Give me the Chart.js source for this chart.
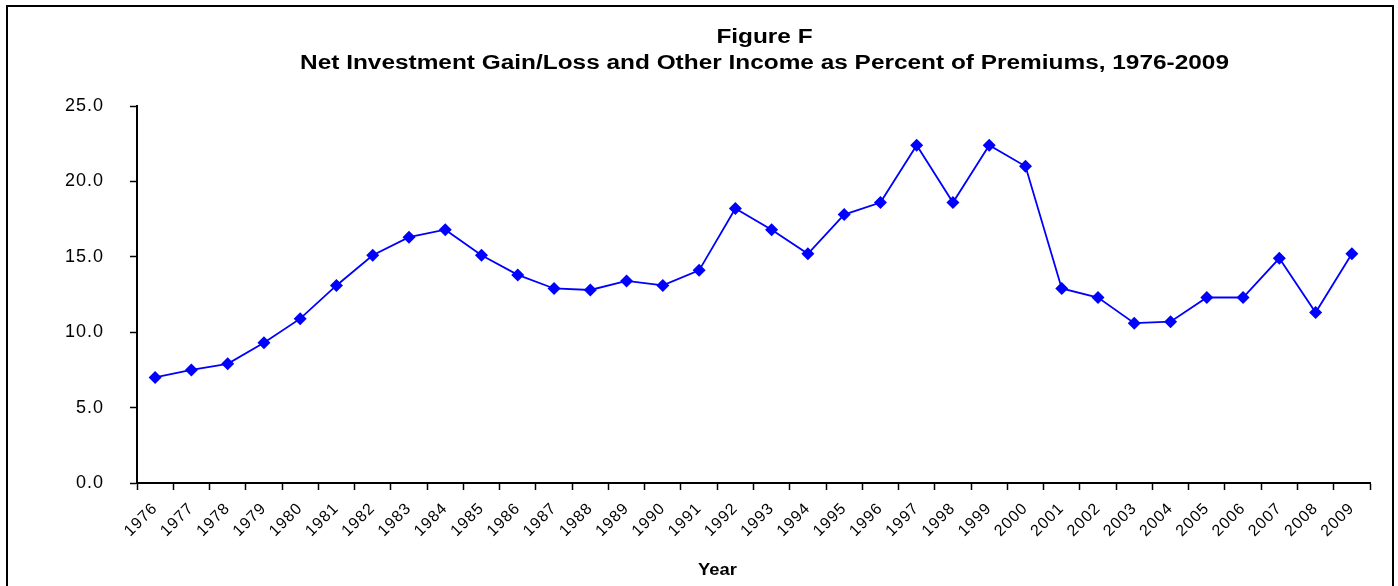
<!DOCTYPE html>
<html>
<head>
<meta charset="utf-8">
<script src="https://cdn.jsdelivr.net/npm/chart.js@4/dist/chart.umd.min.js"></script>
<style>
  html, body { margin: 0; padding: 0; background: #fff; overflow: hidden; }
  .frame {
    position: absolute; left: 6px; top: 5px;
    width: 1384px; height: 590px;
    border: 2px solid #000;
  }
  canvas { display: block; }
</style>
</head>
<body>
<div class="frame"><canvas id="chart" width="1384" height="590"></canvas></div>
<script>
// ── Data ─────────────────────────────────────────────────────────────────────

const YEARS = [
  '1976', '1977', '1978', '1979', '1980', '1981', '1982', '1983', '1984', '1985',
  '1986', '1987', '1988', '1989', '1990', '1991', '1992', '1993', '1994', '1995',
  '1996', '1997', '1998', '1999', '2000', '2001', '2002', '2003', '2004', '2005',
  '2006', '2007', '2008', '2009',
];

// Net investment gain/loss and other income, % of premiums
const PCT_OF_PREMIUMS = [
  7.0, 7.5, 7.9, 9.3, 10.9, 13.1, 15.1, 16.3, 16.8, 15.1,
  13.8, 12.9, 12.8, 13.4, 13.1, 14.1, 18.2, 16.8, 15.2, 17.8,
  18.6, 22.4, 18.6, 22.4, 21.0, 12.9, 12.3, 10.6, 10.7, 12.3,
  12.3, 14.9, 11.3, 15.2,
];

const Y_MIN = 0;
const Y_MAX = 25;
const Y_STEP = 5;

const TITLE_LINES = [
  'Figure F',
  'Net Investment Gain/Loss and Other Income as Percent of Premiums, 1976-2009',
];
const X_TITLE = 'Year';

// ── Styling ──────────────────────────────────────────────────────────────────

const FONT = "'Liberation Sans', Arial, sans-serif";
const BLUE = '#0000ff';
const TICK_SPACING = '1px';

// Wide, slightly stretched text, centred at (x, y)
function wideText(ctx, text, x, y, sx) {
  ctx.save();
  ctx.translate(x, y);
  ctx.scale(sx, 1);
  ctx.fillText(text, 0, 0);
  ctx.restore();
}

// Title block and axis title sit a little off the plot centre, so they are
// drawn here rather than through the built-in title options.
const figureText = {
  id: 'figureText',
  beforeUpdate(chart) { chart.ctx.letterSpacing = TICK_SPACING; },
  beforeDraw(chart)   { chart.ctx.letterSpacing = TICK_SPACING; },
  afterDraw(chart) {
    const { ctx, chartArea } = chart;
    const mid = (chartArea.left + chartArea.right) / 2;
    ctx.save();
    ctx.letterSpacing = '0px';
    ctx.fillStyle = '#000';
    ctx.textAlign = 'center';
    ctx.textBaseline = 'middle';

    ctx.font = `bold 20px ${FONT}`;
    TITLE_LINES.forEach((line, i) => wideText(ctx, line, mid + 11, 30 + i * 26, 1.22));

    ctx.font = `bold 17px ${FONT}`;
    wideText(ctx, X_TITLE, mid - 36, 563, 1.08);
    ctx.restore();
  },
};

// ── Chart ────────────────────────────────────────────────────────────────────

new Chart(document.getElementById('chart'), {
  type: 'line',
  data: {
    labels: YEARS,
    datasets: [{
      data: PCT_OF_PREMIUMS,
      borderColor: BLUE,
      backgroundColor: BLUE,
      borderWidth: 1.8,
      pointStyle: 'rectRot',
      pointRadius: 6.5,
      pointBorderWidth: 0,
      tension: 0,
    }],
  },
  plugins: [figureText],
  options: {
    responsive: false,
    animation: false,
    layout: { padding: { left: 0, right: 22, top: 99, bottom: 14 } },
    plugins: {
      legend: { display: false },
      tooltip: { enabled: false },
      title: { display: false },
    },
    scales: {
      x: {
        offset: true,
        grid: {
          offset: true,
          drawOnChartArea: false,
          drawTicks: true,
          tickLength: 7,
          tickWidth: 1.5,
          tickColor: '#000',
        },
        border: { display: true, color: '#000', width: 2 },
        ticks: {
          color: '#000',
          font: { family: FONT, size: 16 },
          autoSkip: false,
          maxRotation: 45,
          minRotation: 45,
          padding: 9,
        },
        afterFit(scale) { scale.height = 100; },
      },
      y: {
        min: Y_MIN,
        max: Y_MAX,
        grid: {
          drawOnChartArea: false,
          drawTicks: true,
          tickLength: 7,
          tickWidth: 1.5,
          tickColor: '#000',
        },
        border: { display: true, color: '#000', width: 2 },
        ticks: {
          stepSize: Y_STEP,
          color: '#000',
          font: { family: FONT, size: 18 },
          padding: 26,
          callback: v => Number(v).toFixed(1),
        },
        afterFit(scale) { scale.width = 129; },
      },
    },
  },
});
</script>
</body>
</html>
